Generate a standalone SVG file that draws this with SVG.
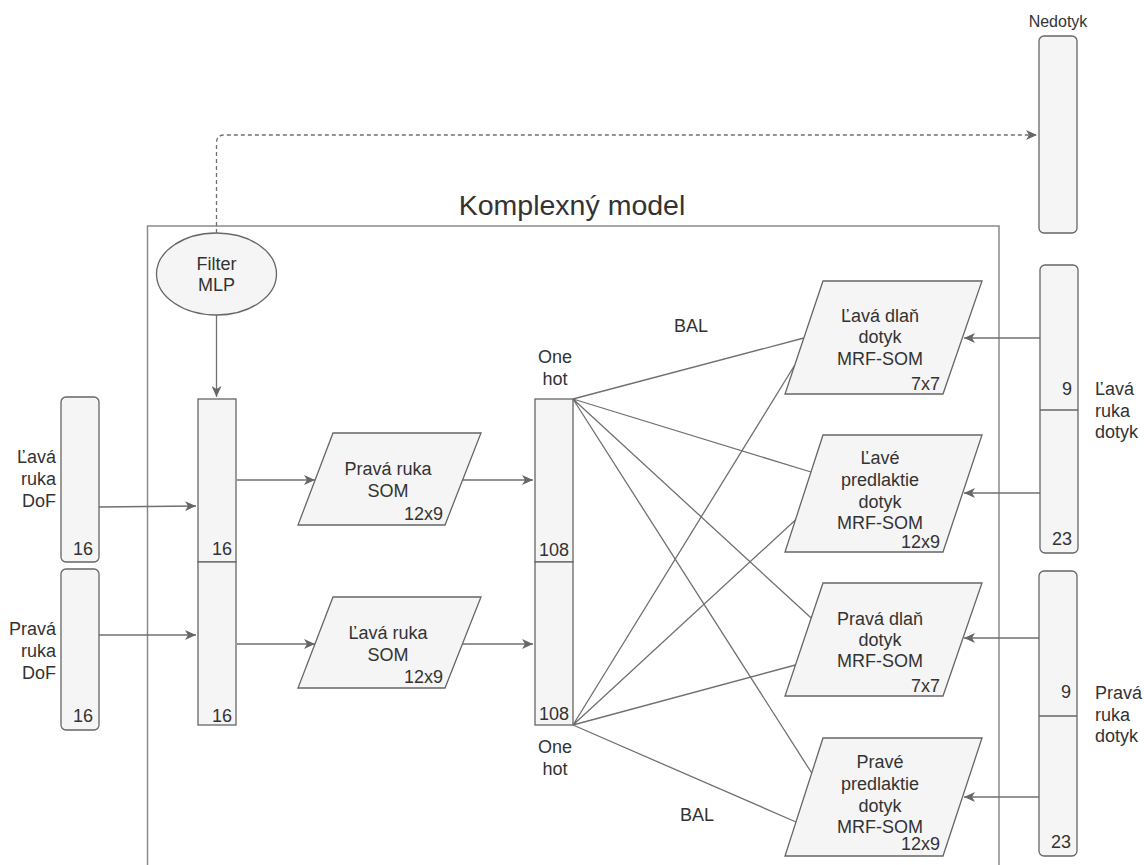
<svg xmlns="http://www.w3.org/2000/svg" width="1144" height="865" viewBox="0 0 1144 865">
<style>
text{font-family:"Liberation Sans",Arial,Helvetica,sans-serif;font-size:18px;fill:#333333}
.box{fill:#f5f5f5;stroke:#666666;stroke-width:1.3}
.ln{fill:none;stroke:#707070;stroke-width:1.3}
.c{text-anchor:middle}
.e{text-anchor:end}
</style>
<defs>
<marker id="arr" markerUnits="userSpaceOnUse" markerWidth="12" markerHeight="10" refX="11" refY="5" orient="auto">
<path d="M0,0 L11,5 L0,10 L3,5 z" fill="#666666"/>
</marker>
</defs>
<rect width="1144" height="865" fill="#ffffff"/>

<g id="container">
<rect x="147.5" y="226" width="851.5" height="700" fill="none" stroke="#8a8a8a" stroke-width="1.5"/>
<text class="c" x="572" y="215" style="font-size:28.5px">Komplexný model</text>
</g>

<g id="connectors">
<path class="ln" d="M216.5,233 V143 Q216.5,135 224.5,135 H1037" stroke-dasharray="4 3" marker-end="url(#arr)"/>
<path class="ln" d="M216.5,315 V397" marker-end="url(#arr)"/>
<path class="ln" d="M99,507 L196,506" marker-end="url(#arr)"/>
<path class="ln" d="M99,635 L196,635" marker-end="url(#arr)"/>
<path class="ln" d="M237,480 H315" marker-end="url(#arr)"/>
<path class="ln" d="M237,644 H315" marker-end="url(#arr)"/>
<path class="ln" d="M463,480 H533" marker-end="url(#arr)"/>
<path class="ln" d="M463,644 H533" marker-end="url(#arr)"/>
<path class="ln" d="M1040,338 H964" marker-end="url(#arr)"/>
<path class="ln" d="M1040,493 H964" marker-end="url(#arr)"/>
<path class="ln" d="M1039,638 H964" marker-end="url(#arr)"/>
<path class="ln" d="M1039,797 H964" marker-end="url(#arr)"/>
<path class="ln" d="M573,399 L803.8,338 M573,399 L811,472 M573,399 L811.2,618 M573,399 L811.7,773"/>
<path class="ln" d="M573,725 L794.8,365 M573,725 L795.4,520 M573,725 L795.4,665 M573,725 L796,822"/>
<text class="c" x="691" y="332">BAL</text>
<text class="c" x="697" y="821">BAL</text>
</g>

<g id="nedotyk">
<text class="c" x="1058" y="27" style="font-size:16px">Nedotyk</text>
<rect class="box" x="1039" y="36" width="38" height="197" rx="5"/>
</g>

<g id="filter-mlp">
<ellipse class="box" cx="216.5" cy="274" rx="60" ry="41"/>
<text class="c" x="216.5" y="270">Filter</text>
<text class="c" x="216.5" y="291">MLP</text>
</g>

<g id="lava-ruka-dof">
<rect class="box" x="61" y="397" width="38" height="165" rx="5"/>
<text class="e" x="56" y="463">Ľavá</text>
<text class="e" x="56" y="485">ruka</text>
<text class="e" x="56" y="507">DoF</text>
<text class="e" x="93" y="555">16</text>
</g>

<g id="prava-ruka-dof">
<rect class="box" x="61" y="569" width="38" height="161" rx="5"/>
<text class="e" x="56" y="635">Pravá</text>
<text class="e" x="56" y="657">ruka</text>
<text class="e" x="56" y="679">DoF</text>
<text class="e" x="93" y="722">16</text>
</g>

<g id="concat">
<rect class="box" x="198" y="399" width="38" height="163"/>
<rect class="box" x="198" y="562" width="38" height="163"/>
<text class="e" x="232" y="555">16</text>
<text class="e" x="232" y="722">16</text>
</g>

<g id="prava-ruka-som">
<polygon class="box" points="333,433 481,433 445,525 298,525"/>
<text class="c" x="388" y="475">Pravá ruka</text>
<text class="c" x="388" y="497">SOM</text>
<text class="e" x="443" y="520">12x9</text>
</g>

<g id="lava-ruka-som">
<polygon class="box" points="333,597 481,597 445,688 298,688"/>
<text class="c" x="388" y="639">Ľavá ruka</text>
<text class="c" x="388" y="661">SOM</text>
<text class="e" x="443" y="683">12x9</text>
</g>

<g id="one-hot">
<rect class="box" x="535" y="399" width="38" height="163"/>
<rect class="box" x="535" y="562" width="38" height="163"/>
<text class="e" x="569" y="556">108</text>
<text class="e" x="569" y="720">108</text>
<text class="c" x="555" y="363">One</text>
<text class="c" x="555" y="385">hot</text>
<text class="c" x="555" y="753">One</text>
<text class="c" x="555" y="775">hot</text>
</g>

<g id="lava-dlan">
<polygon class="box" points="823,281 982,281 943,394 785,394"/>
<text class="c" x="880" y="322">Ľavá dlaň</text>
<text class="c" x="880" y="343">dotyk</text>
<text class="c" x="880" y="365">MRF-SOM</text>
<text class="e" x="940" y="390">7x7</text>
</g>

<g id="lave-predlaktie">
<polygon class="box" points="823,435 982,435 943,552 785,552"/>
<text class="c" x="880" y="464">Ľavé</text>
<text class="c" x="880" y="486">predlaktie</text>
<text class="c" x="880" y="507.5">dotyk</text>
<text class="c" x="880" y="529">MRF-SOM</text>
<text class="e" x="940" y="548">12x9</text>
</g>

<g id="prava-dlan">
<polygon class="box" points="823,583 982,583 943,696 785,696"/>
<text class="c" x="880" y="625">Pravá dlaň</text>
<text class="c" x="880" y="646">dotyk</text>
<text class="c" x="880" y="667">MRF-SOM</text>
<text class="e" x="940" y="692">7x7</text>
</g>

<g id="prave-predlaktie">
<polygon class="box" points="823,738 982,738 943,856 785,856"/>
<text class="c" x="880" y="768">Pravé</text>
<text class="c" x="880" y="790">predlaktie</text>
<text class="c" x="880" y="811.5">dotyk</text>
<text class="c" x="880" y="833">MRF-SOM</text>
<text class="e" x="940" y="850">12x9</text>
</g>

<g id="lava-ruka-dotyk">
<rect class="box" x="1040" y="265" width="38" height="288" rx="5"/>
<line x1="1040" y1="410" x2="1078" y2="410" stroke="#666666" stroke-width="1.3"/>
<text class="e" x="1072" y="395">9</text>
<text class="e" x="1072" y="545">23</text>
<text x="1095" y="395">Ľavá</text>
<text x="1095" y="416.5">ruka</text>
<text x="1095" y="438">dotyk</text>
</g>

<g id="prava-ruka-dotyk">
<rect class="box" x="1039" y="571" width="38" height="285" rx="5"/>
<line x1="1039" y1="716" x2="1077" y2="716" stroke="#666666" stroke-width="1.3"/>
<text class="e" x="1071" y="698">9</text>
<text class="e" x="1071" y="848">23</text>
<text x="1095" y="699">Pravá</text>
<text x="1095" y="720.5">ruka</text>
<text x="1095" y="742">dotyk</text>
</g>
</svg>
